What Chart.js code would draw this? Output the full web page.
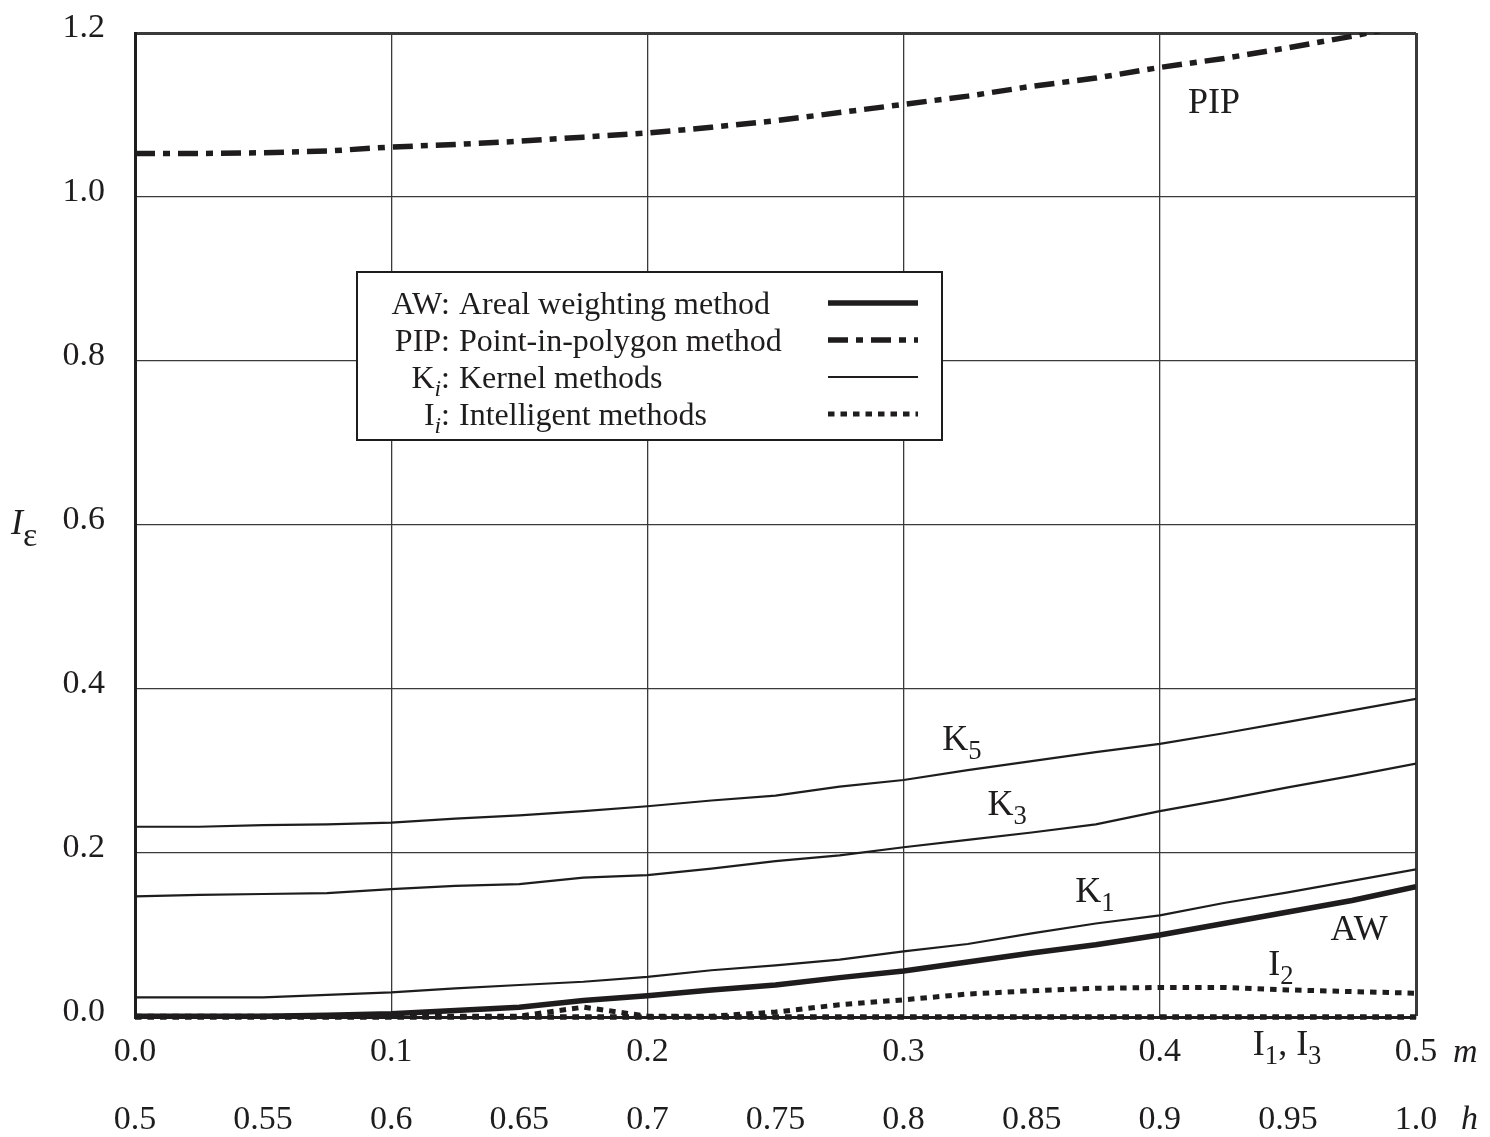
<!DOCTYPE html>
<html>
<head>
<meta charset="utf-8">
<script src="https://cdn.jsdelivr.net/npm/chart.js@4.4.1/dist/chart.umd.min.js"></script>
<style>
html,body{margin:0;padding:0;background:#fff;}
#wrap{position:relative;width:1490px;height:1137px;}
</style>
</head>
<body>
<div id="wrap"><canvas id="c"></canvas></div>
<script>
// ---- data ----
const mValues = [0, 0.025, 0.05, 0.075, 0.1, 0.125, 0.15, 0.175, 0.2, 0.225, 0.25, 0.275, 0.3, 0.325, 0.35, 0.375, 0.4, 0.425, 0.45, 0.475, 0.5];
const pipValues = [1.053, 1.053, 1.054, 1.056, 1.061, 1.064, 1.068, 1.073, 1.078, 1.085, 1.093, 1.103, 1.113, 1.123, 1.135, 1.145, 1.158, 1.169, 1.182, 1.196, 1.212];
const k5Values  = [0.232, 0.232, 0.234, 0.235, 0.237, 0.242, 0.246, 0.251, 0.257, 0.264, 0.270, 0.281, 0.289, 0.301, 0.312, 0.323, 0.333, 0.346, 0.360, 0.374, 0.388];
const k3Values  = [0.147, 0.149, 0.150, 0.151, 0.156, 0.160, 0.162, 0.170, 0.173, 0.181, 0.190, 0.197, 0.207, 0.216, 0.225, 0.235, 0.251, 0.265, 0.280, 0.294, 0.309];
const k1Values  = [0.024, 0.024, 0.024, 0.027, 0.030, 0.035, 0.039, 0.043, 0.049, 0.057, 0.063, 0.070, 0.080, 0.089, 0.102, 0.114, 0.124, 0.139, 0.152, 0.166, 0.180];
const awValues  = [0.001, 0.001, 0.001, 0.002, 0.004, 0.008, 0.012, 0.020, 0.026, 0.033, 0.039, 0.048, 0.056, 0.067, 0.078, 0.088, 0.100, 0.114, 0.128, 0.142, 0.159];
const i2Values  = [0.001, 0.001, 0.001, 0.001, 0.001, 0.001, 0.001, 0.012, 0.001, 0.001, 0.006, 0.015, 0.021, 0.028, 0.032, 0.035, 0.036, 0.036, 0.033, 0.031, 0.029];
const i1Values  = [0, 0, 0, 0, 0, 0, 0, 0, 0, 0, 0, 0, 0, 0, 0, 0, 0, 0, 0, 0, 0];
const i3Values  = [0, 0, 0, 0, 0, 0, 0, 0, 0, 0, 0, 0, 0, 0, 0, 0, 0, 0, 0, 0, 0];

const yTickLabels = ['0.0', '0.2', '0.4', '0.6', '0.8', '1.0', '1.2'];
const mTickLabels = ['0.0', '0.1', '0.2', '0.3', '0.4', '0.5'];
const hTickLabels = ['0.5', '0.55', '0.6', '0.65', '0.7', '0.75', '0.8', '0.85', '0.9', '0.95', '1.0'];

// ---- styles ----
const INK = '#1e1c1d';
const GRID = '#3a3a3a';
const FONT = '"Liberation Serif","Times New Roman",serif';
const TICK_SIZE = 34;

const styleAW  = { borderWidth: 5.5, borderDash: [] };
const stylePIP = { borderWidth: 5.5, borderDash: [20, 8, 7, 8] };
const styleK   = { borderWidth: 2.2, borderDash: [] };
const styleI   = { borderWidth: 5, borderDash: [6.5, 6] };

function pts(vals) { return mValues.map((m, i) => ({ x: m, y: vals[i] })); }
function ds(label, vals, st, extra) {
  return Object.assign({
    label, data: pts(vals), borderColor: INK, backgroundColor: INK,
    borderWidth: st.borderWidth, borderDash: st.borderDash,
    pointRadius: 0, tension: 0, fill: false, borderCapStyle: 'butt', borderJoinStyle: 'round'
  }, extra || {});
}

const datasets = [
  ds('PIP', pipValues, stylePIP),
  ds('K5', k5Values, styleK),
  ds('K3', k3Values, styleK),
  ds('K1', k1Values, styleK),
  ds('AW', awValues, styleAW),
  ds('I2', i2Values, styleI, { clip: 6 }),
  ds('I1', i1Values, styleI, { clip: 6 }),
  ds('I3', i3Values, styleI, { clip: 6 }),
];

// ---- rich text helpers ----
function fnt(size, it) { return (it ? 'italic ' : '') + size + 'px ' + FONT; }
function segSize(s, size) { return s.sub ? size * 0.74 : size; }
function richWidth(ctx, segs, size) {
  let w = 0;
  for (const s of segs) { ctx.font = fnt(segSize(s, size), s.it); w += ctx.measureText(s.t).width; }
  return w;
}
function drawRich(ctx, segs, x, baseline, size, align) {
  const w = richWidth(ctx, segs, size);
  let cx = align === 'right' ? x - w : (align === 'center' ? x - w / 2 : x);
  ctx.textAlign = 'left';
  ctx.textBaseline = 'alphabetic';
  ctx.fillStyle = INK;
  for (const s of segs) {
    const sz = segSize(s, size);
    ctx.font = fnt(sz, s.it);
    ctx.fillText(s.t, cx, baseline + (s.sub ? size * 0.24 : 0));
    cx += ctx.measureText(s.t).width;
  }
}

// curve annotations (data-space anchor of text centre)
const annotations = [
  { segs: [{ t: 'PIP' }], m: 0.4212, v: 1.117 },
  { segs: [{ t: 'K' }, { t: '5', sub: true }], m: 0.3228, v: 0.340 },
  { segs: [{ t: 'K' }, { t: '3', sub: true }], m: 0.3404, v: 0.261 },
  { segs: [{ t: 'K' }, { t: '1', sub: true }], m: 0.3747, v: 0.155 },
  { segs: [{ t: 'AW' }], m: 0.4778, v: 0.108 },
  { segs: [{ t: 'I' }, { t: '2', sub: true }], m: 0.4473, v: 0.066 },
  { segs: [{ t: 'I' }, { t: '1', sub: true }, { t: ', I' }, { t: '3', sub: true }], m: 0.4497, v: -0.032 },
];

// legend rows: prefix, description, style
const legendRows = [
  { pre: [{ t: 'AW:' }], desc: 'Areal weighting method', st: styleAW },
  { pre: [{ t: 'PIP:' }], desc: 'Point-in-polygon method', st: stylePIP },
  { pre: [{ t: 'K' }, { t: 'i', sub: true, it: true }, { t: ':' }], desc: 'Kernel methods', st: styleK },
  { pre: [{ t: 'I' }, { t: 'i', sub: true, it: true }, { t: ':' }], desc: 'Intelligent methods', st: styleI },
];

const decorPlugin = {
  id: 'decor',
  afterDraw(chart) {
    const ctx = chart.ctx;
    const xs = chart.scales.x, ys = chart.scales.y;
    ctx.save();
    // axis title I_epsilon
    ctx.fillStyle = INK;
    ctx.textBaseline = 'alphabetic';
    ctx.textAlign = 'left';
    ctx.font = fnt(36, true);
    ctx.fillText('I', 11, 534);
    ctx.font = fnt(34, false);
    ctx.fillText('\u03B5', 23, 546);
    // m, h axis letters
    ctx.font = fnt(TICK_SIZE, true);
    ctx.fillText('m', 1453, 1062);
    ctx.fillText('h', 1461, 1129);
    // annotations
    for (const a of annotations) {
      const px = xs.getPixelForValue(a.m);
      const py = ys.getPixelForValue(a.v);
      drawRich(ctx, a.segs, px, py + 12, 36, 'center');
    }
    // legend box
    const bx = 357, by = 272, bw = 585, bh = 168;
    ctx.fillStyle = '#fff';
    ctx.fillRect(bx, by, bw, bh);
    ctx.strokeStyle = INK;
    ctx.lineWidth = 2;
    ctx.setLineDash([]);
    ctx.strokeRect(bx, by, bw, bh);
    legendRows.forEach((r, i) => {
      const yc = 303 + i * 37;
      drawRich(ctx, r.pre, 450, yc + 11, 32, 'right');
      ctx.font = fnt(32, false);
      ctx.fillText(r.desc, 459, yc + 11);
      ctx.beginPath();
      ctx.strokeStyle = INK;
      ctx.lineWidth = r.st.borderWidth;
      ctx.lineCap = 'butt';
      ctx.setLineDash(r.st.borderDash);
      ctx.moveTo(828, yc);
      ctx.lineTo(918, yc);
      ctx.stroke();
    });
    ctx.restore();
  }
};

new Chart(document.getElementById('c'), {
  type: 'line',
  data: { datasets },
  options: {
    responsive: true,
    maintainAspectRatio: false,
    animation: false,
    layout: { padding: { left: 0, right: 74, top: 33, bottom: 0 } },
    plugins: { legend: { display: false }, tooltip: { enabled: false } },
    scales: {
      x: {
        type: 'linear', position: 'bottom', weight: 0, min: 0, max: 0.5,
        ticks: {
          stepSize: 0.1, autoSkip: false, maxRotation: 0, padding: 15,
          color: INK, font: { family: FONT, size: TICK_SIZE },
          callback: (v, i) => mTickLabels[i]
        },
        grid: {
          drawTicks: false, color: GRID,
          lineWidth: (c) => (c.tick && c.tick.value > 0.4999) ? 3 : 1.3
        },
        border: { display: true, color: INK, width: 3 },
        afterFit: (s) => { s.height = 62; }
      },
      x2: {
        type: 'linear', position: 'bottom', weight: 1, min: 0.5, max: 1.0,
        ticks: {
          stepSize: 0.05, autoSkip: false, maxRotation: 0, padding: 21,
          color: INK, font: { family: FONT, size: TICK_SIZE },
          callback: (v, i) => hTickLabels[i]
        },
        grid: { display: false, drawTicks: false },
        border: { display: false },
        afterFit: (s) => { s.height = 58; }
      },
      y: {
        type: 'linear', position: 'left', min: 0, max: 1.2,
        ticks: {
          stepSize: 0.2, autoSkip: false, padding: 30, labelOffset: -5,
          color: INK, font: { family: FONT, size: TICK_SIZE },
          callback: (v, i) => yTickLabels[i]
        },
        grid: {
          drawTicks: false, color: GRID,
          lineWidth: (c) => (c.tick && c.tick.value > 1.1999) ? 3 : 1.3
        },
        border: { display: true, color: INK, width: 3 },
        afterFit: (s) => { s.width = 135; s.paddingTop = 0; s.paddingBottom = 0; }
      }
    }
  },
  plugins: [decorPlugin]
});
</script>
</body>
</html>
